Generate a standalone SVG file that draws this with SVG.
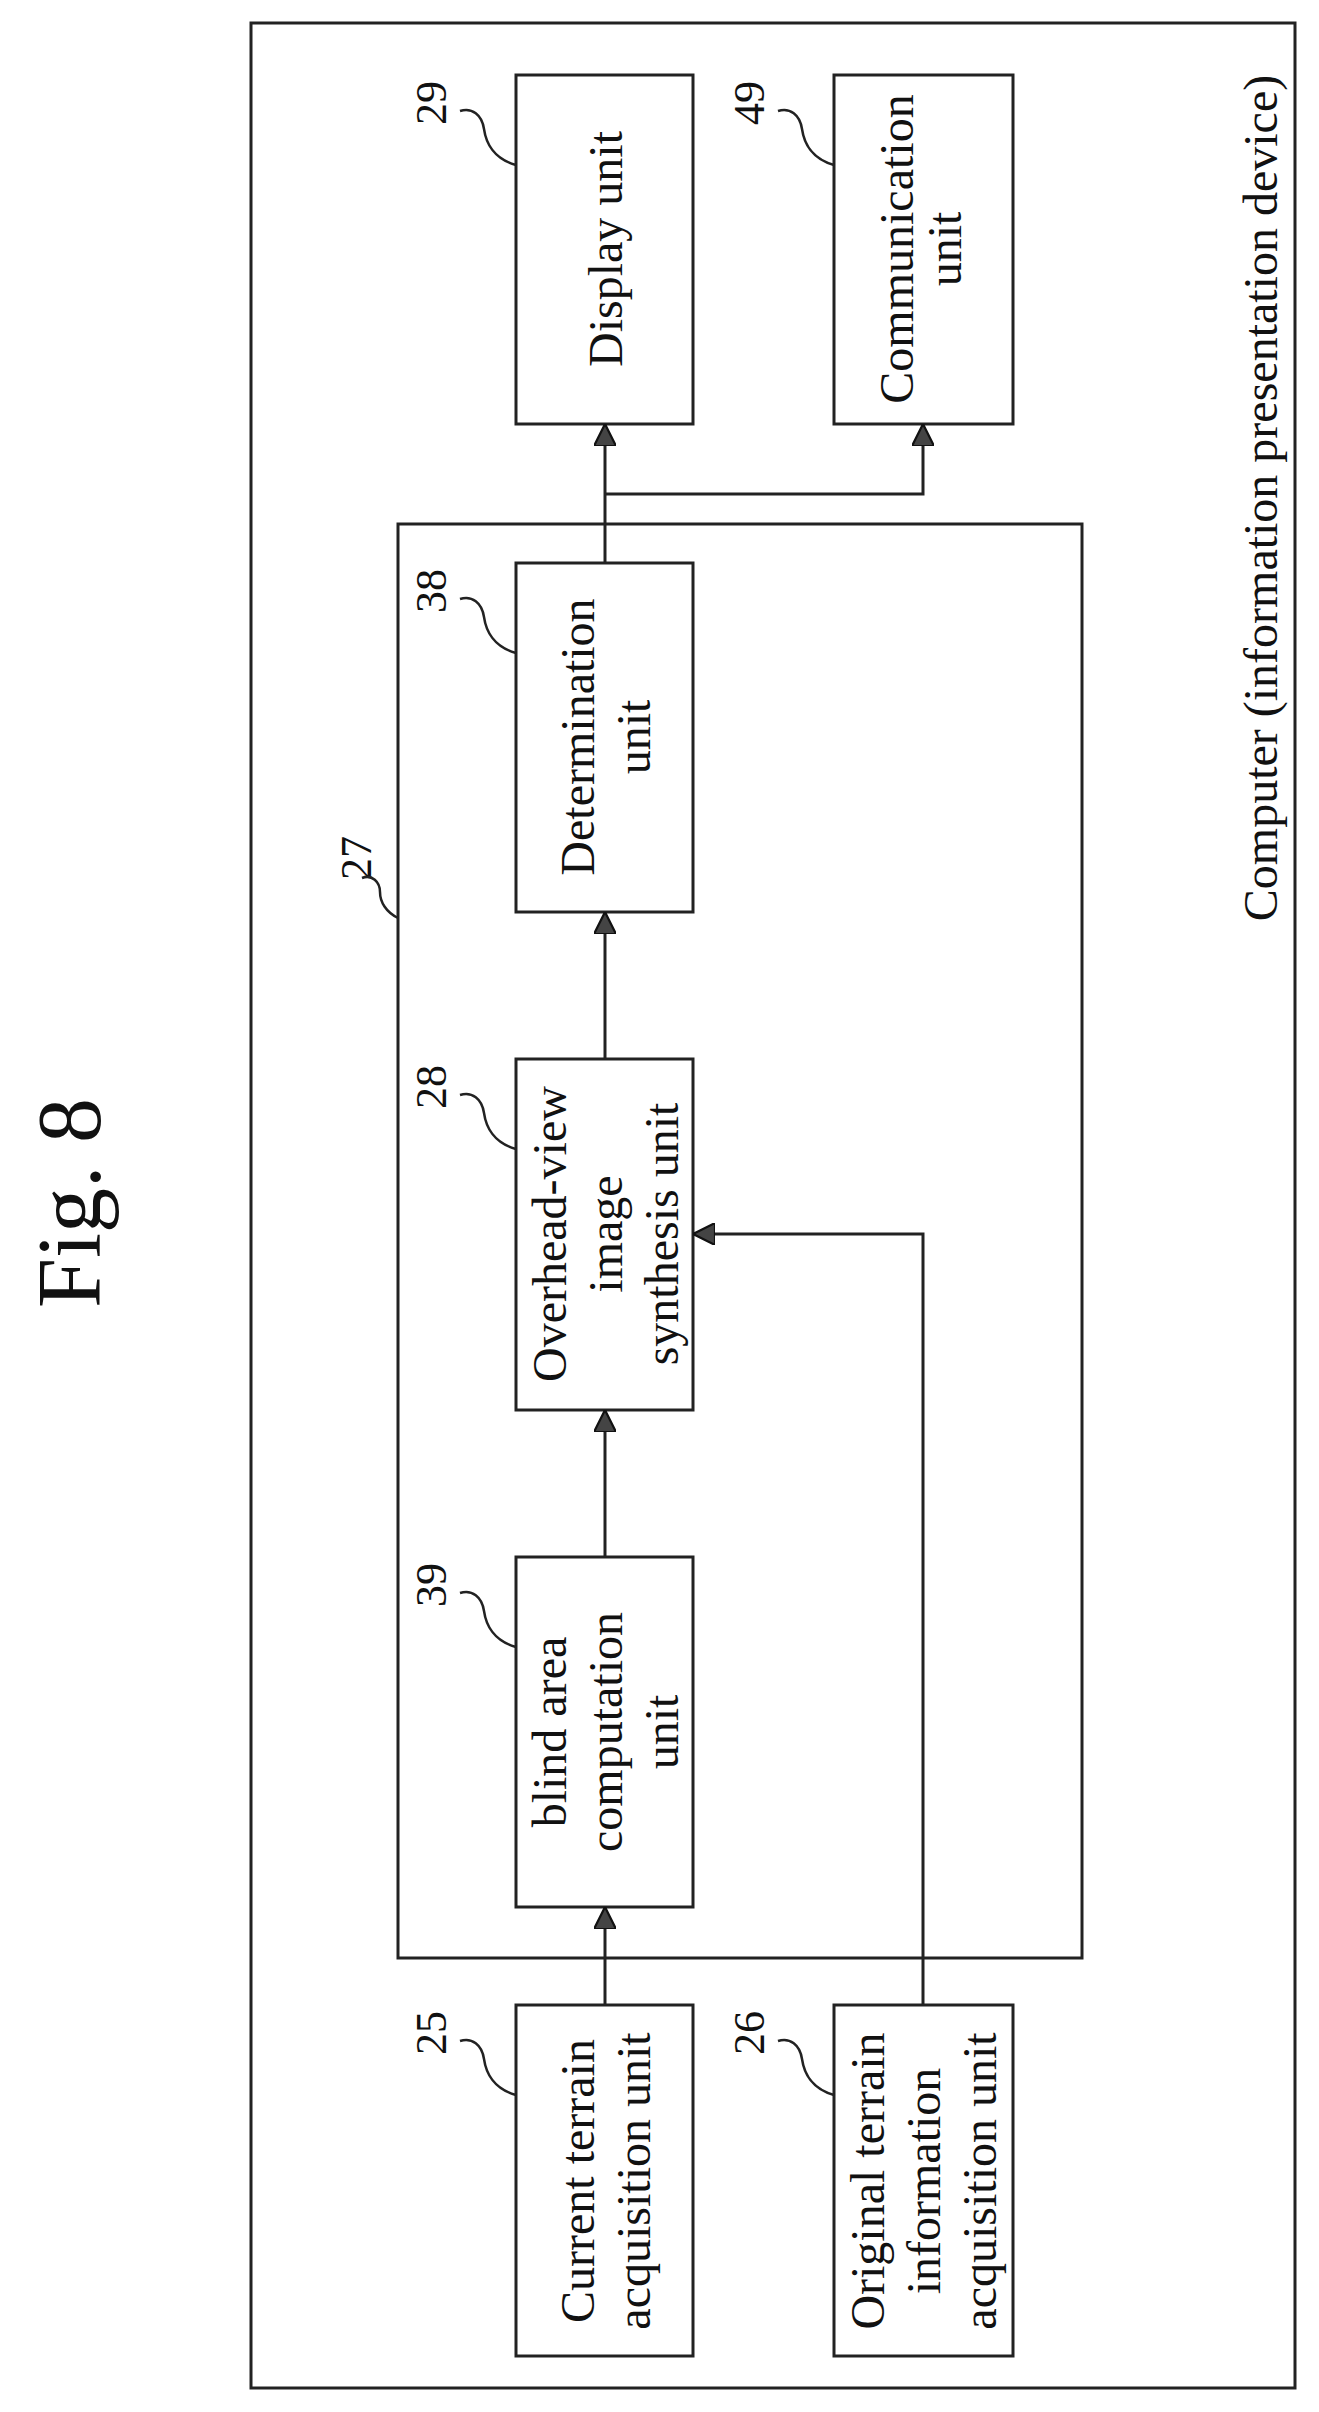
<svg xmlns="http://www.w3.org/2000/svg" width="1319" height="2412" viewBox="0 0 1319 2412">
<style>
.b{fill:none;stroke:#222;stroke-width:3}
.c{fill:none;stroke:#222;stroke-width:3}
.s{fill:none;stroke:#222;stroke-width:2.5}
text{font-family:"Liberation Serif",serif;fill:#111;text-anchor:middle;dominant-baseline:central}
.t{font-size:48px}
.n{font-size:44px}
</style>
<defs><marker id="a" viewBox="0 0 10 10" refX="10" refY="5" markerWidth="22" markerHeight="22" markerUnits="userSpaceOnUse" orient="auto"><path d="M0,0L10,5L0,10Z" fill="#444" stroke="#111" stroke-width="1"/></marker></defs>
<rect width="1319" height="2412" fill="#fff"/>
<text x="69" y="1203" font-size="90" transform="rotate(-90 69 1203)">Fig. 8</text>
<g id="computer"><rect class="b" x="251" y="23" width="1044" height="2365"/>
<text class="t" x="1260" y="498" transform="rotate(-90 1260 498)">Computer (information presentation device)</text></g>
<g id="n27"><rect class="b" x="398" y="524" width="684" height="1434"/><text class="n" x="356" y="858" transform="rotate(-90 356 858)">27</text><path class="s" d="M362,878 c10,-4 18,4 18,14 s6,20 18,26"/></g>
<g id="n29"><rect class="b" x="516" y="75" width="177" height="349"/><text class="n" x="431" y="103" transform="rotate(-90 431 103)">29</text><path class="s" d="M460,111 c12,-4 22,4 24,18 s10,30 32,36"/><text class="t" x="605" y="249" transform="rotate(-90 605 249)">Display unit</text></g>
<g id="n49"><rect class="b" x="834" y="75" width="179" height="349"/><text class="n" x="749" y="103" transform="rotate(-90 749 103)">49</text><path class="s" d="M778,111 c12,-4 22,4 24,18 s10,30 32,36"/><text class="t" transform="rotate(-90 920 249)"><tspan x="920" y="225">Communication</tspan><tspan x="920" y="273">unit</tspan></text></g>
<g id="n38"><rect class="b" x="516" y="563" width="177" height="349"/><text class="n" x="431" y="591" transform="rotate(-90 431 591)">38</text><path class="s" d="M460,599 c12,-4 22,4 24,18 s10,30 32,36"/><text class="t" transform="rotate(-90 605 737)"><tspan x="605" y="709">Determination</tspan><tspan x="605" y="765">unit</tspan></text></g>
<g id="n28"><rect class="b" x="516" y="1059" width="177" height="351"/><text class="n" x="431" y="1087" transform="rotate(-90 431 1087)">28</text><path class="s" d="M460,1095 c12,-4 22,4 24,18 s10,30 32,36"/><text class="t" transform="rotate(-90 605 1234)"><tspan x="605" y="1178">Overhead-view</tspan><tspan x="605" y="1234">image</tspan><tspan x="605" y="1290">synthesis unit</tspan></text></g>
<g id="n39"><rect class="b" x="516" y="1557" width="177" height="350"/><text class="n" x="431" y="1585" transform="rotate(-90 431 1585)">39</text><path class="s" d="M460,1593 c12,-4 22,4 24,18 s10,30 32,36"/><text class="t" transform="rotate(-90 605 1732)"><tspan x="605" y="1676">blind area</tspan><tspan x="605" y="1732">computation</tspan><tspan x="605" y="1788">unit</tspan></text></g>
<g id="n25"><rect class="b" x="516" y="2005" width="177" height="351"/><text class="n" x="431" y="2033" transform="rotate(-90 431 2033)">25</text><path class="s" d="M460,2041 c12,-4 22,4 24,18 s10,30 32,36"/><text class="t" transform="rotate(-90 605 2181)"><tspan x="605" y="2153">Current terrain</tspan><tspan x="605" y="2209">acquisition unit</tspan></text></g>
<g id="n26"><rect class="b" x="834" y="2005" width="179" height="351"/><text class="n" x="749" y="2033" transform="rotate(-90 749 2033)">26</text><path class="s" d="M778,2041 c12,-4 22,4 24,18 s10,30 32,36"/><text class="t" transform="rotate(-90 923 2181)"><tspan x="923" y="2125">Original terrain</tspan><tspan x="923" y="2181">information</tspan><tspan x="923" y="2237">acquisition unit</tspan></text></g>
<g id="connectors">
<path class="c" d="M605,2005V1907" marker-end="url(#a)"/>
<path class="c" d="M605,1557V1410" marker-end="url(#a)"/>
<path class="c" d="M605,1059V912" marker-end="url(#a)"/>
<path class="c" d="M605,563V424" marker-end="url(#a)"/>
<path class="c" d="M605,494H923V424" marker-end="url(#a)"/>
<path class="c" d="M923,2005V1234H693" marker-end="url(#a)"/>
</g>
</svg>
